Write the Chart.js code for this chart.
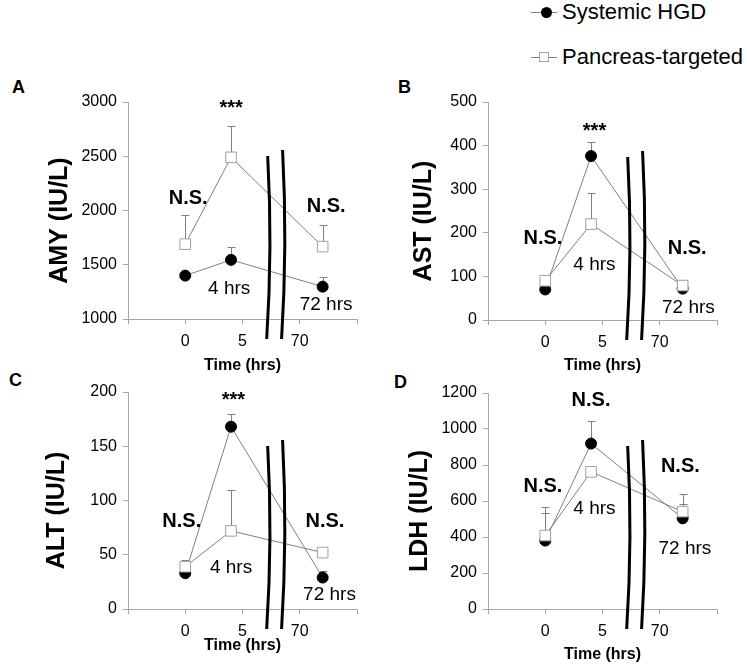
<!DOCTYPE html>
<html>
<head>
<meta charset="utf-8">
<script src="https://cdn.jsdelivr.net/npm/chart.js@4.4.1/dist/chart.umd.min.js"></script>
<style>
  body { margin: 0; background: #fff; font-family: Arial, "Liberation Sans", sans-serif; }
  #wrap { position: relative; width: 747px; height: 665px; overflow: hidden; }
  canvas { position: absolute; }
  .letter { position: absolute; font-weight: bold; font-size: 18px; line-height: 18px; color: #000; }
  .leg { position: absolute; left: 531px; height: 24px; width: 216px; }
  .leg .ln { position: absolute; left: 0; top: 12px; width: 26px; height: 1px; background: #808080; }
  .leg .dot { position: absolute; left: 10px; top: 7px; width: 11px; height: 11px; border-radius: 50%; background: #000; }
  .leg .sq { position: absolute; left: 8px; top: 7px; width: 10px; height: 10px; background: #fff; border: 1px solid #a0a0a0; box-sizing: border-box; }
  .leg .tx { position: absolute; left: 31px; top: 0; font-size: 22px; line-height: 24px; color: #000; white-space: nowrap; }
</style>
</head>
<body>
<div id="wrap">
  <div class="leg" style="top:0px"><div class="ln"></div><div class="dot"></div><span class="tx">Systemic HGD</span></div>
  <div class="leg" style="top:45px"><div class="ln"></div><div class="sq"></div><span class="tx">Pancreas-targeted</span></div>
  <div class="letter" style="left:12px;top:78px">A</div>
  <div class="letter" style="left:398px;top:78px">B</div>
  <div class="letter" style="left:9px;top:371px">C</div>
  <div class="letter" style="left:394px;top:373px">D</div>
  <canvas id="cA" width="373" height="295" style="left:0;top:80px"></canvas>
  <canvas id="cB" width="374" height="295" style="left:373px;top:80px"></canvas>
  <canvas id="cC" width="373" height="290" style="left:0;top:375px"></canvas>
  <canvas id="cD" width="374" height="290" style="left:373px;top:375px"></canvas>
</div>
<script>
// sampling times (hrs)
const times = [0, 4, 72];
const xTickLabels = ['0', '5', '70'];

// AMY
const amySystemic = [1400, 1545, 1298];
const amySystemicErr = [null, 1668, 1388];   // upper end of error bar
const amyPancreas = [1690, 2490, 1667];
const amyPancreasErr = [1955, 2782, 1865];

// AST
const astSystemic = [70, 376, 72];
const astSystemicErr = [null, 408, null];
const astPancreas = [90, 220, 79];
const astPancreasErr = [101, 292, 92];

// ALT
const altSystemic = [33, 168, 29];
const altSystemicErr = [null, 180, 35];
const altPancreas = [39, 72, 52];
const altPancreasErr = [45, 110, null];

// LDH
const ldhSystemic = [380, 919, 504];
const ldhSystemicErr = [532, 1045, 581];
const ldhPancreas = [408, 762, 541];
const ldhPancreasErr = [565, null, 637];

const axisColor = '#a6a6a6';
const lineColor = '#808080';
const FONT = 'Arial, "Liberation Sans", sans-serif';

// the axis is broken between 5 and 70 hrs
function xPos(t) { return t > 5 ? t - 60 : t; }

function pts(vals) {
  return vals.map((v, i) => ({ x: xPos(times[i]), y: v }));
}

const panels = [
  { id: 'cA', box: [0, 80, 373, 295], area: [128, 357, 102, 319], yTitle: 'AMY (IU/L)', yMin: 1000, yMax: 3000, yStep: 500,
    sys: amySystemic, sysErr: amySystemicErr, pan: amyPancreas, panErr: amyPancreasErr, yTitleX: 60, xPad: 0,
    notes: [['***', 4, 2940, true], ['N.S.', 0.26, 2112, true], ['N.S.', 72.3, 2035, true], ['4 hrs', 3.84, 1276, false], ['72 hrs', 72.3, 1132, false]] },
  { id: 'cB', box: [373, 80, 374, 295], area: [488, 717, 102, 320], yTitle: 'AST (IU/L)', yMin: 0, yMax: 500, yStep: 100,
    sys: astSystemic, sysErr: astSystemicErr, pan: astPancreas, panErr: astPancreasErr, yTitleX: 51, xPad: 0,
    notes: [['***', 4.3, 432, true], ['N.S.', -0.2, 187, true], ['N.S.', 72.4, 164, true], ['4 hrs', 4.3, 126, false], ['72 hrs', 72.5, 27, false]] },
  { id: 'cC', box: [0, 375, 373, 290], area: [128, 357, 392, 609], yTitle: 'ALT (IU/L)', yMin: 0, yMax: 200, yStep: 50,
    sys: altSystemic, sysErr: altSystemicErr, pan: altPancreas, panErr: altPancreasErr, yTitleX: 57, xPad: 10,
    notes: [['***', 4.2, 192, true], ['N.S.', -0.3, 80.5, true], ['N.S.', 72.2, 80.5, true], ['4 hrs', 4, 37.7, false], ['72 hrs', 72.6, 13, false]] },
  { id: 'cD', box: [373, 375, 374, 290], area: [488, 717, 393, 609], yTitle: 'LDH (IU/L)', yMin: 0, yMax: 1200, yStep: 200,
    sys: ldhSystemic, sysErr: ldhSystemicErr, pan: ldhPancreas, panErr: ldhPancreasErr, yTitleX: 47, xPad: 1,
    notes: [['N.S.', 4, 1159, true], ['N.S.', -0.2, 679, true], ['N.S.', 71.8, 790, true], ['4 hrs', 4.3, 559, false], ['72 hrs', 72.2, 332, false]] }
];

// error bars (upper only), drawn under the markers
const errorBars = {
  id: 'errorBars',
  beforeDatasetsDraw(chart) {
    const p = chart.options.plugins.errorBars;
    const xs = chart.scales.x, ys = chart.scales.y, ctx = chart.ctx;
    ctx.save();
    ctx.strokeStyle = lineColor;
    ctx.lineWidth = 1;
    [[p.sys, p.sysErr], [p.pan, p.panErr]].forEach(([vals, errs]) => {
      errs.forEach((e, i) => {
        if (e == null) return;
        const x = Math.round(xs.getPixelForValue(xPos(times[i]))) + 0.5;
        const y0 = ys.getPixelForValue(vals[i]);
        const y1 = Math.round(ys.getPixelForValue(e)) + 0.5;
        ctx.beginPath();
        ctx.moveTo(x, y0); ctx.lineTo(x, y1);
        ctx.moveTo(x - 4, y1); ctx.lineTo(x + 4, y1);
        ctx.stroke();
      });
    });
    ctx.restore();
  }
};

// axis break marks, y title + text notes
const extras = {
  id: 'extras',
  afterDatasetsDraw(chart) {
    const p = chart.options.plugins.extras;
    const xs = chart.scales.x, ys = chart.scales.y, ctx = chart.ctx;
    const x5 = xs.getPixelForValue(5), unit = xs.getPixelForValue(10) - x5;
    const { top: cTop, bottom } = chart.chartArea;
    ctx.save();
    ctx.strokeStyle = '#000';
    ctx.lineWidth = 3;
    [[0.44, 163], [0.70, 169]].forEach(([f, h]) => {
      const x = x5 + f * unit;
      const top = bottom - h, end = bottom + 20;
      ctx.beginPath();
      ctx.moveTo(x, top);
      ctx.quadraticCurveTo(x + 5, (top + end) / 2, x - 1, end);
      ctx.stroke();
    });
    ctx.fillStyle = '#000';
    ctx.textAlign = 'center';
    ctx.textBaseline = 'middle';
    p.notes.forEach(([txt, t, v, bold]) => {
      ctx.font = (bold ? 'bold 20px ' : '19px ') + FONT;
      ctx.fillText(txt, xs.getPixelForValue(xPos(t)), ys.getPixelForValue(v));
    });
    // y axis title, sitting a little below the middle of the plot
    ctx.translate(p.titleX, (cTop + bottom) / 2 + 10);
    ctx.rotate(-Math.PI / 2);
    ctx.font = 'bold 25px ' + FONT;
    ctx.fillText(p.title, 0, 0);
    ctx.restore();
  }
};

panels.forEach(pn => {
  const [bl, bt, bw, bh] = pn.box;
  const [al, ar, at, ab] = pn.area;
  new Chart(document.getElementById(pn.id), {
    type: 'line',
    data: {
      datasets: [
        {
          label: 'Pancreas-targeted', data: pts(pn.pan), order: 0,
          borderColor: lineColor, borderWidth: 1,
          pointStyle: 'rect', pointRadius: 7.5, pointBackgroundColor: '#fff',
          pointBorderColor: '#a0a0a0', pointBorderWidth: 1
        },
        {
          label: 'Systemic HGD', data: pts(pn.sys), order: 1,
          borderColor: lineColor, borderWidth: 1,
          pointStyle: 'circle', pointRadius: 5.5, pointBackgroundColor: '#000',
          pointBorderColor: '#000', pointBorderWidth: 1
        }
      ]
    },
    options: {
      responsive: false,
      animation: false,
      devicePixelRatio: 1,
      layout: { padding: { left: 0, top: at - bt, right: bl + bw - ar, bottom: 0 } },
      plugins: {
        legend: { display: false },
        tooltip: { enabled: false },
        errorBars: { sys: pn.sys, sysErr: pn.sysErr, pan: pn.pan, panErr: pn.panErr },
        extras: { notes: pn.notes, title: pn.yTitle, titleX: pn.yTitleX }
      },
      scales: {
        x: {
          type: 'linear', min: -5, max: 15,
          afterFit: s => { s.height = bt + bh - ab; },
          border: { color: axisColor },
          grid: { drawOnChartArea: false, tickLength: 5, color: axisColor },
          ticks: {
            stepSize: 5, padding: 8, color: '#000', maxRotation: 0,
            font: { size: 16, family: FONT },
            callback: v => (v >= 0 && v <= 10 ? xTickLabels[v / 5] : '')
          },
          title: {
            display: true, text: 'Time (hrs)', color: '#000',
            padding: { top: 0, bottom: pn.xPad },
            font: { size: 16, weight: 'bold', family: FONT }
          }
        },
        y: {
          min: pn.yMin, max: pn.yMax,
          afterFit: s => { s.width = al - bl; },
          border: { color: axisColor },
          grid: { drawOnChartArea: false, tickLength: 5, color: axisColor },
          ticks: {
            stepSize: pn.yStep, padding: 6, color: '#000',
            font: { size: 16, family: FONT },
            callback: v => String(v)
          }
        }
      }
    },
    plugins: [errorBars, extras]
  });
});
</script>
</body>
</html>
